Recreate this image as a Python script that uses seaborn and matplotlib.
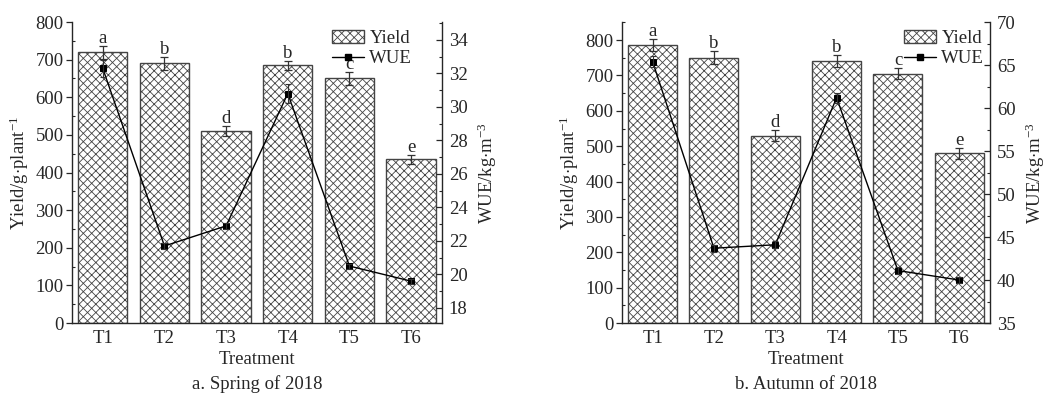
import numpy as np
import pandas as pd
import matplotlib
matplotlib.use('Agg')
import matplotlib.pyplot as plt
import seaborn as sns
from matplotlib.patches import Patch
from matplotlib.lines import Line2D
from matplotlib.ticker import MultipleLocator

## Data
treatments = ['T1', 'T2', 'T3', 'T4', 'T5', 'T6']

spring_yield = [720, 690, 510, 685, 650, 435]
spring_yield_err = [17, 17, 14, 12, 16, 12]
spring_wue = [32.3, 21.7, 22.9, 30.8, 20.5, 19.6]
spring_wue_err = [0.5, 0.2, 0.2, 0.55, 0.15, 0.15]
spring_letters = ['a', 'b', 'd', 'b', 'c', 'e']

autumn_yield = [785, 750, 530, 740, 705, 480]
autumn_yield_err = [17, 18, 15, 17, 15, 15]
autumn_wue = [65.4, 43.7, 44.1, 61.2, 41.1, 40.0]
autumn_wue_err = [0.6, 0.4, 0.4, 0.6, 0.4, 0.3]
autumn_letters = ['a', 'b', 'd', 'b', 'c', 'e']

FS = 13.5

sns.set_style('ticks')
plt.rcParams['font.family'] = ['Liberation Serif', 'DejaVu Serif']
plt.rcParams['mathtext.fontset'] = 'custom'
plt.rcParams['mathtext.rm'] = 'Liberation Serif'
plt.rcParams['mathtext.it'] = 'Liberation Serif:italic'
plt.rcParams['font.size'] = FS
plt.rcParams['hatch.color'] = '#555555'
plt.rcParams['hatch.linewidth'] = 0.6

fig = plt.figure(figsize=(10.46, 3.96), dpi=100)


def draw_panel(rect, yld, yld_err, wue, wue_err, letters, ylim, wue_lim, wue_major, wue_minor,
               caption, leg_x):
    ax = fig.add_axes(rect)
    df = pd.DataFrame({'Treatment': treatments, 'Yield': yld})
    sns.barplot(data=df, x='Treatment', y='Yield', ax=ax, color='white', width=0.8,
                edgecolor='#444444', linewidth=1.0, errorbar=None)
    for p in ax.patches:
        p.set_hatch('xxxx')
    x = np.arange(len(treatments))
    ax.errorbar(x, yld, yerr=yld_err, fmt='none', ecolor='#333333', elinewidth=0.9,
                capsize=3, capthick=0.9)
    for xi, yi, ei, lab in zip(x, yld, yld_err, letters):
        ax.text(xi, yi + ei - 2, lab, ha='center', va='bottom', fontsize=FS)
    ax.set_xlim(-0.5, 5.5)
    ax.set_ylim(*ylim)
    ax.yaxis.set_major_locator(MultipleLocator(100))
    ax.yaxis.set_minor_locator(MultipleLocator(50))
    ax.tick_params(axis='y', which='major', direction='out', length=4, width=0.9, pad=2)
    ax.tick_params(axis='y', which='minor', direction='in', length=2.5, width=0.8)
    ax.tick_params(axis='x', direction='in', length=3, width=0.9, pad=5)
    ax.set_xlabel('Treatment', fontsize=FS, labelpad=3)
    ax.set_ylabel('Yield/g$\\cdot$plant$^{-1}$', fontsize=FS, labelpad=3)
    for s in ['left', 'bottom']:
        ax.spines[s].set_linewidth(1.0)
    ax.spines['top'].set_visible(False)
    ax.spines['right'].set_visible(False)

    ax2 = ax.twinx()
    sns.lineplot(x=x, y=wue, ax=ax2, color='black', marker='s', markersize=5,
                 markeredgecolor='black', linewidth=1.0)
    ax2.errorbar(x, wue, yerr=wue_err, fmt='none', ecolor='#333333', elinewidth=0.8,
                 capsize=2.5, capthick=0.8)
    ax2.set_ylim(*wue_lim)
    ax2.yaxis.set_major_locator(MultipleLocator(wue_major))
    ax2.yaxis.set_minor_locator(MultipleLocator(wue_minor))
    ax2.tick_params(axis='y', which='major', direction='in', length=4, width=0.9, pad=5)
    ax2.tick_params(axis='y', which='minor', direction='in', length=2.5, width=0.8)
    ax2.set_ylabel('WUE/kg$\\cdot$m$^{-3}$', fontsize=FS, labelpad=6)
    ax2.spines['top'].set_visible(False)
    ax2.spines['left'].set_visible(False)
    ax2.spines['bottom'].set_visible(False)
    ax2.spines['right'].set_linewidth(1.0)

    handles = [Patch(facecolor='white', edgecolor='#444444', hatch='xxxx', label='Yield'),
               Line2D([0], [0], color='black', marker='s', markersize=4, linewidth=1.0,
                      label='WUE')]
    ax2.legend(handles=handles, loc='upper right', bbox_to_anchor=(leg_x, 0.985), frameon=False,
               fontsize=FS, handlelength=1.7, handletextpad=0.3, labelspacing=0.15,
               borderaxespad=0.0, borderpad=0.2)
    ax.text(0.5, -0.232, caption, transform=ax.transAxes, ha='center', va='bottom', fontsize=FS)


draw_panel([0.0688, 0.1843, 0.3537, 0.760], spring_yield, spring_yield_err, spring_wue,
           spring_wue_err, spring_letters, (0, 800), (17.1, 35.07), 2, 1, 'a. Spring of 2018',
           0.93)
draw_panel([0.5946, 0.1843, 0.3518, 0.760], autumn_yield, autumn_yield_err, autumn_wue,
           autumn_wue_err, autumn_letters, (0, 851), (35, 70), 5, 2.5, 'b. Autumn of 2018',
           0.995)

fig.savefig('out.png', dpi=100)
